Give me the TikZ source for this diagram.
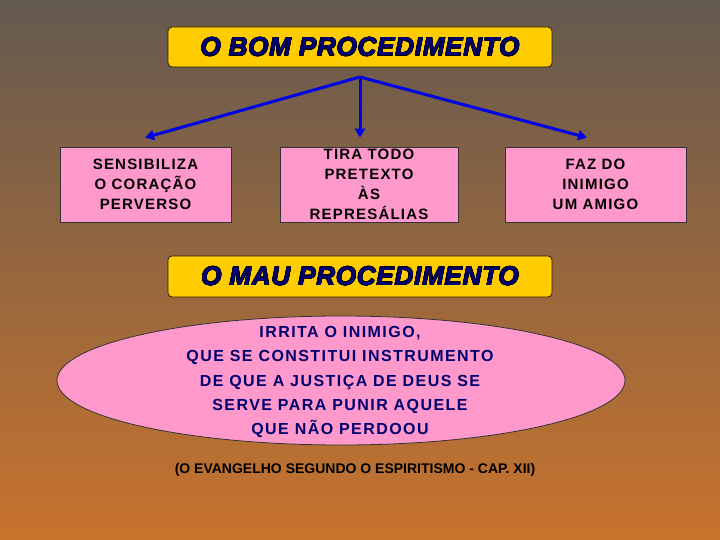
\documentclass[tikz,border=0pt]{standalone}
\usepackage{fontspec}
\usepackage[copies]{contour}
\setmainfont{Liberation Sans}
\newfontfamily\boxfont[LetterSpace=8]{Liberation Sans}
\newfontfamily\ellfont[LetterSpace=9]{Liberation Sans}
\newfontfamily\titlefont[LetterSpace=3]{Liberation Sans}
\usetikzlibrary{arrows.meta,shapes.geometric}
\definecolor{bgtop}{RGB}{100,90,80}
\definecolor{bgmid}{RGB}{192,142,90}
\definecolor{bgbot}{RGB}{200,115,45}
\definecolor{gold}{RGB}{255,204,0}
\definecolor{pinkbox}{RGB}{255,153,204}
\definecolor{navy}{RGB}{0,0,110}
\definecolor{arrowblue}{RGB}{0,0,230}
\contourlength{0.4pt}
\tikzset{
  titlebox/.style={draw=black!80!brown, line width=0.8pt, fill=gold, rounded corners=4pt,
    minimum width=384pt, minimum height=40pt, inner sep=0pt,
    font=\titlefont\fontsize{26}{26}\selectfont\bfseries\itshape, text=navy},
  pinkrect/.style={draw=black!80, line width=0.8pt, fill=pinkbox, minimum height=75pt,
    inner sep=0pt, align=center, font=\boxfont\fontsize{15}{20}\selectfont\bfseries, text=black},
  branch/.style={draw=arrowblue, line width=3pt, -{Triangle[length=9pt,width=10pt]}},
}
\begin{document}
\begin{tikzpicture}[x=1pt,y=-1pt]
\shade[top color=bgtop, middle color=bgmid, bottom color=bgbot] (0,0) rectangle (720,540);
\useasboundingbox (0,0) rectangle (720,540);

\node[titlebox] (bom) at (360,47) {\contour{black}{O BOM PROCEDIMENTO}};
\coordinate (apex) at (360,77);
\node[pinkrect, minimum width=171pt] (b1) at (145.5,184.5) {SENSIBILIZA\\O CORAÇÃO\\PERVERSO};
\node[pinkrect, minimum width=178pt] (b2) at (369,184.5) {TIRA TODO\\PRETEXTO\\ÀS\\REPRESÁLIAS};
\node[pinkrect, minimum width=181pt] (b3) at (595.5,184.5) {FAZ DO\\INIMIGO\\UM AMIGO};

\draw[branch] (apex) -- ([yshift=9pt]b1.north -| 145,0);
\draw[branch] (apex) -- ([yshift=9pt]b2.north -| apex);
\draw[branch] (apex) -- ([yshift=9pt]b3.north -| 587,0);

\node[titlebox, minimum height=41pt] (mau) at (360,276.5) {\contour{black}{O MAU PROCEDIMENTO}};

\node[ellipse, draw=black!80, line width=0.8pt, fill=pinkbox, minimum width=568pt, minimum height=129pt,
  inner sep=0pt] (ell) at (341,380.5) {};
\node[align=center, font=\ellfont\fontsize{16}{24.3}\selectfont\bfseries, text=navy] (elltext) at (340,382)
  {IRRITA O INIMIGO,\\QUE SE CONSTITUI INSTRUMENTO\\DE QUE A JUSTIÇA DE DEUS SE\\SERVE PARA PUNIR AQUELE\\QUE NÃO PERDOOU};

\node[font=\fontsize{14}{14}\selectfont\bfseries, text=black] (cite) at (355,470)
  {(O EVANGELHO SEGUNDO O ESPIRITISMO - CAP. XII)};
\end{tikzpicture}
\end{document}
